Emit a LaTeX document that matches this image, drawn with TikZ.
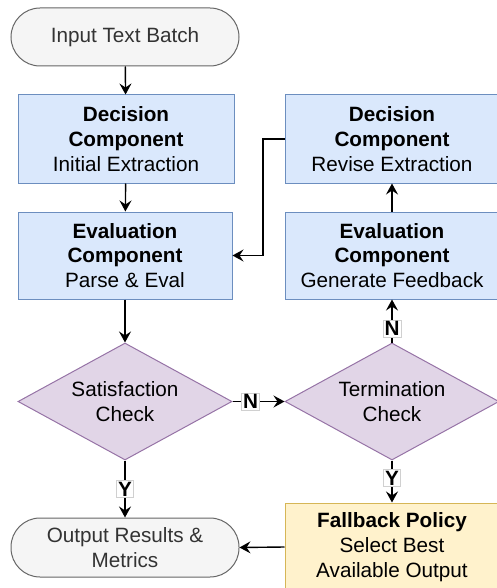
\documentclass[tikz,border=0pt]{standalone}
\usepackage{fontspec}
\setmainfont{Liberation Sans}
\usetikzlibrary{shapes.geometric,arrows.meta}
\definecolor{bluefill}{HTML}{DAE8FC}
\definecolor{bluedraw}{HTML}{6C8EBF}
\definecolor{purplefill}{HTML}{E1D5E7}
\definecolor{purpledraw}{HTML}{9673A6}
\definecolor{yellowfill}{HTML}{FFF2CC}
\definecolor{yellowdraw}{HTML}{D6B656}
\definecolor{greyfill}{HTML}{F5F5F5}
\definecolor{greydraw}{HTML}{666666}
\definecolor{greytext}{HTML}{333333}
\definecolor{labeldraw}{HTML}{D0D0D0}
\tikzset{
  every node/.style={font=\fontsize{20.7}{24.8}\selectfont, align=center},
  terminal/.style={draw=greydraw, fill=greyfill, text=greytext, line width=1pt,
    rounded corners=29pt, minimum width=228pt, minimum height=58pt, inner sep=0pt},
  component/.style={draw=bluedraw, fill=bluefill, line width=1pt,
    minimum width=214pt, minimum height=87pt, inner sep=0pt},
  check/.style={diamond, draw=purpledraw, fill=purplefill, line width=1pt,
    aspect=1.83, minimum width=214pt, minimum height=117pt, inner sep=0pt},
  fallback/.style={draw=yellowdraw, fill=yellowfill, line width=1pt,
    minimum width=214pt, minimum height=88pt, inner sep=0pt},
  flow/.style={line width=1.4pt, -{Stealth[length=11pt,width=12pt,inset=4pt]}},
  answer/.style={fill=white, draw=labeldraw, line width=0.6pt, inner sep=1.5pt,
    font=\fontsize{20.7}{24.8}\selectfont\bfseries},
}
\begin{document}
\begin{tikzpicture}[x=1pt,y=-1pt]
\useasboundingbox (0,0) rectangle (496,588);

\node[terminal] (in) at (125,37) {Input Text Batch};
\node[component, minimum width=216pt, minimum height=88pt] (decl) at (126,139)
  {\textbf{Decision}\\\textbf{Component}\\Initial Extraction};
\node[component, minimum height=88pt] (decr) at (392,139)
  {\textbf{Decision}\\\textbf{Component}\\Revise Extraction};
\node[component] (evall) at (125,255.5)
  {\textbf{Evaluation}\\\textbf{Component}\\Parse \& Eval};
\node[component] (evalr) at (392,255.5)
  {\textbf{Evaluation}\\\textbf{Component}\\Generate Feedback};
\node[check] (sat) at (125,401.5) {Satisfaction\\Check};
\node[check] (term) at (392,401.5) {Termination\\Check};
\node[terminal, minimum height=59pt] (out) at (125,547.5) {Output Results \&\\Metrics};
\node[fallback] (fb) at (392,547)
  {\textbf{Fallback Policy}\\Select Best\\Available Output};

\coordinate (bend1) at (263,139);
\coordinate (bend2) at (263,255.5);

\draw[flow] (in) -- (decl);
\draw[flow] (decl) -- (evall);
\draw[flow] (decr.west) -- (bend1) -- (bend2) -- (evall.east);
\draw[flow] (evalr) -- (decr);
\draw[flow] (evall) -- (sat);
\draw[flow] (sat.east) -- node[answer, pos=0.35] {N} (term.west);
\draw[flow] (term.north) -- node[answer, pos=0.32] {N} (evalr.south);
\draw[flow] (sat.south) -- node[answer, pos=0.5] {Y} (out.north);
\draw[flow] (term.south) -- node[answer, pos=0.42] {Y} (fb.north);
\draw[flow] (fb.west) -- (out.east);
\end{tikzpicture}
\end{document}
